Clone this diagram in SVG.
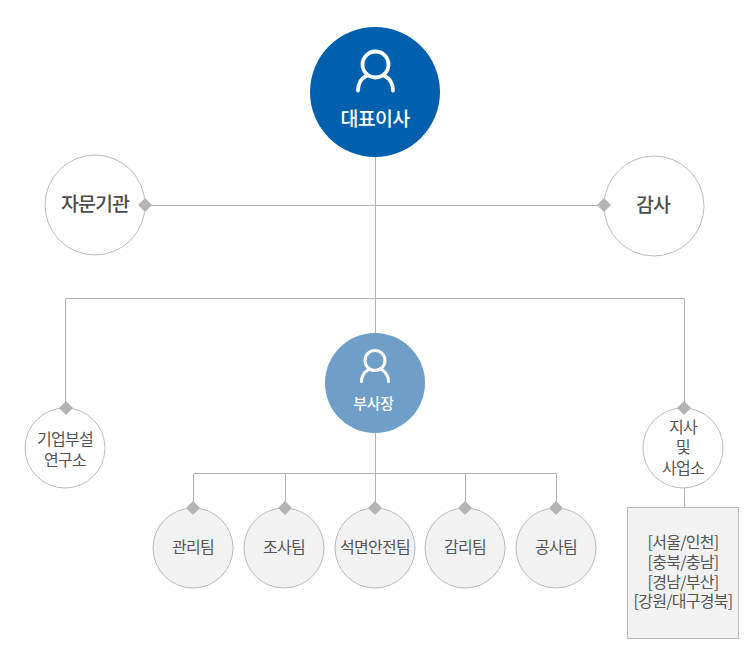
<svg xmlns="http://www.w3.org/2000/svg" width="750" height="660" viewBox="0 0 750 660">
<style>
text{font-family:"Noto Sans CJK KR","Liberation Sans",sans-serif;text-anchor:middle;fill:#555;font-size:16px;letter-spacing:-0.7px}
.l{fill:none;stroke:#b4b4b4;stroke-width:1}
.c{fill:#fff;stroke:#bdbdbd;stroke-width:1}
.g{fill:#f2f2f2;stroke:#b9b9b9;stroke-width:1}
.big{font-size:19.500px;font-weight:500;fill:#4d4d4d;letter-spacing:-0.9px}
.w{fill:#fff;font-weight:500}
.icon{fill:none;stroke:#fff;stroke-linecap:round}
</style>
<defs><path id="d" d="M0-7L7 0L0 7L-7 0Z" fill="#b4b4b4"/></defs>
<g id="connectors">
<path class="l" d="M375.500 157V333M145 205.500H604M65.500 408V298.500H684.500V408M375.500 433V508M193.500 508V473.500H556.500V508M285.500 473.500V508M465.500 473.500V508M684.500 488V507"/>
</g>
<g id="ceo"><circle cx="375" cy="92" r="65" fill="#0060ad"/>
<g class="icon" stroke-width="3.800"><circle cx="375.500" cy="64.500" r="13"/><path d="M358 90.500C358 83 362 78 367 75.500M393 90.500C393 83 389 78 384 75.500"/></g>
<text class="w" x="375" y="126" style="font-size:19.500px;letter-spacing:-0.7px">대표이사</text></g>
<g id="advisory"><circle class="c" cx="95" cy="205" r="50"/><text class="big" x="95" y="211">자문기관</text><use href="#d" x="145" y="205"/></g>
<g id="audit"><circle class="c" cx="654" cy="206" r="50"/><text class="big" x="653" y="212">감사</text><use href="#d" x="604" y="205"/></g>
<g id="vp"><circle cx="375" cy="383" r="50" fill="#6f9fc8"/>
<g class="icon" stroke-width="3"><circle cx="375" cy="360.500" r="10"/><path d="M361.500 381.500C361.500 376 364.500 372 368.500 369.500M388.500 381.500C388.500 376 385.500 372 381.500 369.500"/></g>
<text class="w" x="373.500" y="409" style="font-size:15px;letter-spacing:-0.3px">부사장</text></g>
<g id="research"><circle class="c" cx="65" cy="448" r="40"/><text x="65" y="445">기업부설<tspan x="65" dy="21">연구소</tspan></text><use href="#d" x="66" y="408"/></g>
<g id="branch"><circle class="c" cx="683" cy="448" r="40"/><text x="683" y="433">지사<tspan x="683" dy="20">및</tspan><tspan x="683" dy="21">사업소</tspan></text><use href="#d" x="684" y="408"/></g>
<g id="t1"><circle class="g" cx="193" cy="548" r="40"/><text x="193" y="553">관리팀</text><use href="#d" x="193" y="508"/></g>
<g id="t2"><circle class="g" cx="284" cy="548" r="40"/><text x="284" y="553">조사팀</text><use href="#d" x="285" y="508"/></g>
<g id="t3"><circle class="g" cx="375" cy="548" r="40"/><text x="375" y="553">석면안전팀</text><use href="#d" x="375" y="508"/></g>
<g id="t4"><circle class="g" cx="465" cy="548" r="40"/><text x="465" y="553">감리팀</text><use href="#d" x="465" y="508"/></g>
<g id="t5"><circle class="g" cx="556" cy="548" r="40"/><text x="556" y="553">공사팀</text><use href="#d" x="556" y="508"/></g>
<g id="regions"><rect class="g" x="627.500" y="507.500" width="111" height="131"/>
<text x="683" y="548">[서울/인천]<tspan x="683" dy="20">[충북/충남]</tspan><tspan x="683" dy="20">[경남/부산]</tspan><tspan x="683" dy="19">[강원/대구경북]</tspan></text></g>
</svg>
